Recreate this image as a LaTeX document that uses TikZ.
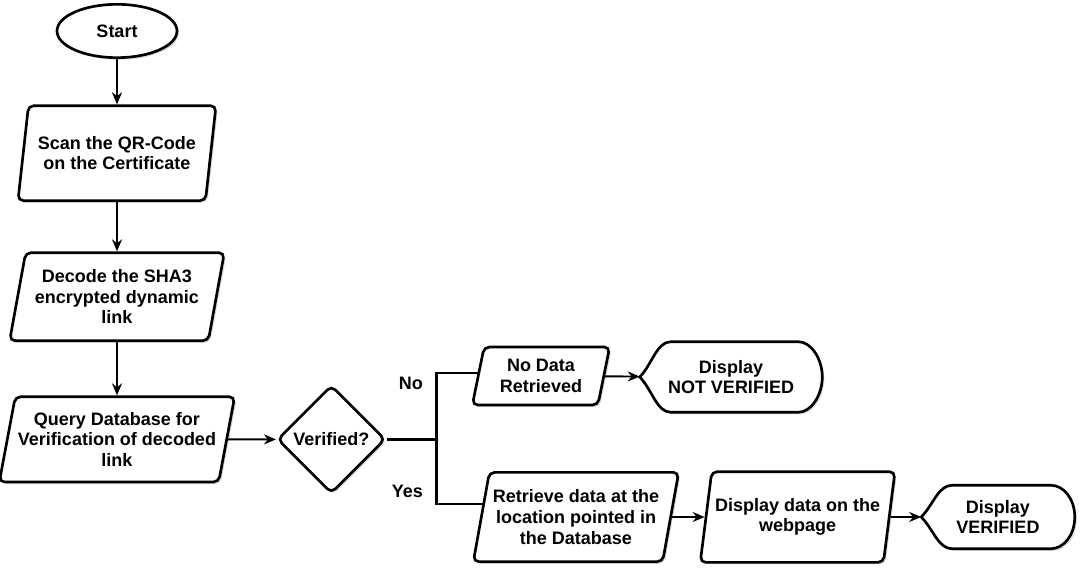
\documentclass[tikz,border=0pt]{standalone}
\usepackage{fontspec}
\setmainfont{Liberation Sans}
\usetikzlibrary{shapes.geometric,arrows.meta,positioning,calc,shadows,backgrounds}

\tikzset{
  >={Stealth[length=9pt,width=7.5pt]},
  softshadow/.style={drop shadow={opacity=0.3,shadow xshift=1.5pt,shadow yshift=-1.5pt}},
  box/.style={draw, line width=2pt, fill=white, softshadow, align=center},
  term/.style={box, ellipse, minimum width=90pt, minimum height=40pt, inner sep=0pt},
  io/.style={box, trapezium, trapezium left angle=75, trapezium right angle=105,
    trapezium stretches body, rounded corners=4pt, inner sep=2pt},
  decision/.style={box, diamond, minimum width=81pt, minimum height=81pt,
    inner sep=1pt, rounded corners=4pt},
  disp/.style={rectangle, inner sep=0pt, align=center},
  arrow/.style={->, line width=1.4pt},
  branch/.style={line width=2.2pt},
}

% display outline drawn round a plain node
\newcommand{\dispshape}[1]{%
  \draw[line width=2pt, fill=white, softshadow, line join=miter]
    ($(#1.north west)+(45,0)$) -- ($(#1.north east)+(-24,0)$)
    .. controls ($(#1.north east)+(-11,0)$) and ($(#1.east)+(0,-18)$) .. (#1.east)
    .. controls ($(#1.east)+(0,18)$) and ($(#1.south east)+(-11,0)$) .. ($(#1.south east)+(-24,0)$)
    -- ($(#1.south west)+(31,0)$)
    .. controls ($(#1.south west)+(17,0)$) and ($(#1.west)+(12,12)$) .. (#1.west)
    .. controls ($(#1.west)+(12,-12)$) and ($(#1.north west)+(17,0)$) .. ($(#1.north west)+(31,0)$)
    -- cycle;}

\begin{document}
\begin{tikzpicture}[x=0.75pt, y=-0.75pt, font=\bfseries\fontsize{13.5}{15.5}\selectfont]
\useasboundingbox (0,0) rectangle (1087,580);

\node[term] (start) at (117,31) {Start};
\node[io, minimum width=148.5pt, minimum height=71.25pt] [below=34pt of start] (scan) {Scan the QR-Code\\on the Certificate};
\node[io, minimum width=161pt, minimum height=66pt] [below=37pt of scan] (decode) {Decode the SHA3\\encrypted dynamic\\link};
\node[io, minimum width=171pt, minimum height=64pt] [below=40pt of decode] (query) {Query Database for\\Verification of decoded\\link};
\node[decision] [right=36pt of query] (ver) {Verified?};
\coordinate [right=37.5pt of ver] (jn);

\node[io, trapezium left angle=73, trapezium right angle=107, minimum width=103pt, minimum height=43.5pt] (nodata) at (541,376) {No Data\\Retrieved};
\node[disp, minimum width=136.5pt, minimum height=52.5pt] (nv) at (731,377) {Display\\NOT VERIFIED};
\node[io, minimum width=154pt, minimum height=67pt] (fetch) at (576,517) {Retrieve data at the\\location pointed in\\the Database};
\node[io, minimum width=146pt, minimum height=68pt] [right=24.5pt of fetch] (show) {Display data on the\\webpage};
\node[disp, minimum width=114.75pt, minimum height=47.25pt] [right=23pt of show] (vd) {Display\\VERIFIED};

\begin{scope}[on background layer]
\dispshape{nv}
\dispshape{vd}
\end{scope}

\draw[arrow] (start) -- (scan);
\draw[arrow] (scan) -- (decode);
\draw[arrow] (decode) -- (query);
\draw[arrow] (query) -- (ver);
\draw[branch] (ver) -- (jn);
\draw[branch] (jn) |- node[pos=0.42, left=6pt] {No} ($(nodata.west)+(1,-3)$);
\draw[branch] (jn) |- node[pos=0.4, left=6pt] {Yes} ($(fetch.west)+(2.5,-13)$);
\draw[arrow] (nodata) -- (nv);
\draw[arrow] (fetch) -- (show);
\draw[arrow] (show) -- (vd);
\end{tikzpicture}
\end{document}
